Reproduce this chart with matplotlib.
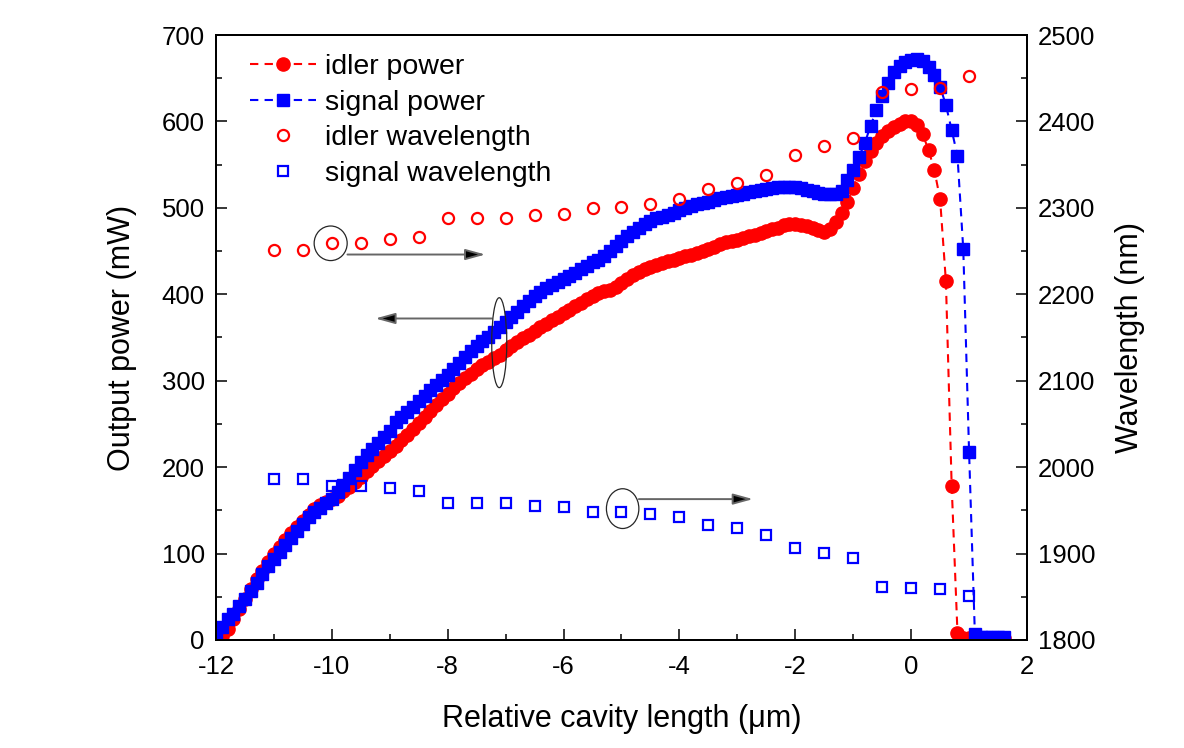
import matplotlib
matplotlib.use("Agg")
import matplotlib.pyplot as plt
from matplotlib.patches import Ellipse
from matplotlib.ticker import MultipleLocator
import numpy as np

plt.rcParams["font.family"] = ["Liberation Sans", "DejaVu Sans"]
plt.rcParams["axes.unicode_minus"] = False

# cavity length scan for the power curves (0.1 um steps from -12.0 to 1.6)
cavity_um = np.round(np.arange(-12.0, 1.65, 0.1), 1)

idler_power = [
    0, 5, 13, 24, 36, 48, 59, 70, 80, 90,
    99, 108, 116, 124, 131, 138, 145, 151, 156, 160,
    163, 167, 172, 177, 183, 189, 195, 201, 207, 213,
    219, 225, 231, 237, 244, 251, 258, 265, 272, 279,
    285, 291, 297, 303, 308, 313, 318, 322, 326, 330,
    335, 340, 345, 349, 353, 358, 362, 366, 370, 374,
    378, 382, 386, 390, 394, 398, 402, 404, 405, 408,
    413, 418, 422, 426, 429, 432, 434, 436, 438, 440,
    442, 444, 446, 448, 450, 452, 455, 458, 460, 462,
    463, 465, 467, 469, 471, 473, 475, 477, 480, 481,
    481, 480, 479, 477, 474, 472, 476, 484, 494, 507,
    523, 539, 554, 566, 575, 583, 589, 593, 597, 600,
    601, 596, 585, 567, 544, 510, 415, 178, 8, 2,
    2, 2, 2, 2, 2, 2, 2,
]

signal_power = [
    5, 15, 24, 30, 39, 48, 57, 66, 76, 86,
    94, 102, 110, 118, 126, 134, 142, 148, 153, 158,
    163, 171, 179, 188, 197, 206, 214, 221, 228, 235,
    242, 252, 258, 264, 270, 276, 282, 289, 295, 301,
    307, 314, 321, 328, 334, 340, 346, 351, 356, 362,
    368, 374, 380, 386, 392, 398, 403, 407, 411, 414,
    418, 421, 425, 429, 433, 437, 440, 444, 450, 456,
    462, 467, 472, 477, 481, 485, 488, 490, 492, 494,
    497, 500, 502, 504, 506, 507, 509, 511, 512, 514,
    515, 516, 518, 519, 521, 522, 523, 524, 524, 524,
    524, 523, 521, 519, 517, 516, 516, 516, 520, 532,
    544, 559, 575, 595, 613, 630, 645, 657, 664, 669,
    671, 672, 670, 663, 654, 640, 619, 590, 560, 452,
    218, 7, 3, 3, 3, 3, 3,
]

# wavelength measurements every 0.5 um
wl_pos = [-11.0, -10.5, -10.0, -9.5, -9.0, -8.5, -8.0, -7.5, -7.0, -6.5, -6.0, -5.5,
          -5.0, -4.5, -4.0, -3.5, -3.0, -2.5, -2.0, -1.5, -1.0, -0.5, 0.0, 0.5, 1.0]
idler_wl = [2251, 2251, 2259, 2259, 2264, 2266, 2288, 2288, 2288, 2292, 2293, 2300,
            2301, 2305, 2310, 2322, 2329, 2338, 2361, 2371, 2381, 2434, 2437, 2439, 2452]
signal_wl = [1986, 1986, 1978, 1978, 1976, 1972, 1958, 1958, 1958, 1955, 1954, 1948,
             1948, 1946, 1942, 1933, 1930, 1922, 1906, 1901, 1895, 1861, 1860, 1859, 1851]

RED = "#ff0000"
BLUE = "#0000ff"

fig = plt.figure(figsize=(11.84, 7.48), dpi=100)
ax = fig.add_axes([0.1824, 0.1444, 0.6850, 0.8088])
ax2 = ax.twinx()

l1, = ax.plot(cavity_um, idler_power, color=RED, ls=(0, (4, 3)), lw=1.5,
              marker="o", ms=9.5, mec=RED, mfc=RED, label="idler power")
l2, = ax.plot(cavity_um, signal_power, color=BLUE, ls=(0, (4, 3)), lw=1.5,
              marker="s", ms=8.3, mec=BLUE, mfc=BLUE, label="signal power")
l3, = ax2.plot(wl_pos, idler_wl, ls="none", marker="o", ms=8.0, mfc="none",
               mec=RED, mew=1.6, label="idler wavelength")
l4, = ax2.plot(wl_pos, signal_wl, ls="none", marker="s", ms=7.0, mfc="none",
               mec=BLUE, mew=1.6, label="signal wavelength")

ax.set_xlim(-12, 2)
ax.set_ylim(0, 700)
ax2.set_ylim(1800, 2500)

ax.xaxis.set_major_locator(MultipleLocator(2))
ax.xaxis.set_minor_locator(MultipleLocator(1))
ax.yaxis.set_major_locator(MultipleLocator(100))
ax.yaxis.set_minor_locator(MultipleLocator(50))
ax2.yaxis.set_major_locator(MultipleLocator(100))
ax2.yaxis.set_minor_locator(MultipleLocator(50))

for a in (ax, ax2):
    for s in a.spines.values():
        s.set_linewidth(1.4)
ax.tick_params(which="both", direction="in", top=False, right=False, width=1.1,
               labelsize=18.5, pad=8)
ax.tick_params(axis="x", which="both", pad=11)
ax.tick_params(which="major", length=8)
ax.tick_params(which="minor", length=4.5)
ax2.tick_params(which="both", direction="in", width=1.1, labelsize=18.5, pad=8)
ax2.tick_params(which="major", length=8)
ax2.tick_params(which="minor", length=4.5)

ax.set_xlabel("Relative cavity length (\u03bcm)", fontsize=22, labelpad=18)
ax.set_ylabel("Output power (mW)", fontsize=22, labelpad=18)
ax2.set_ylabel("Wavelength (nm)", fontsize=22, labelpad=14)

# annotations: ellipses marking the series and arrows pointing to their axis
arrow_kw = dict(arrowstyle="-|>,head_length=0.8,head_width=0.22", fc="black",
                ec="0.4", lw=1.4, mutation_scale=15, shrinkA=0, shrinkB=0)

ax2.add_patch(Ellipse((-10.02, 2259), 0.57, 40, fill=False, ec="0.15", lw=0.9, zorder=5))
ax2.annotate("", xy=(-7.35, 2246), xytext=(-9.73, 2246), arrowprops=arrow_kw)

ax2.add_patch(Ellipse((-4.98, 1952), 0.56, 46, fill=False, ec="0.15", lw=0.9, zorder=5))
ax2.annotate("", xy=(-2.73, 1963), xytext=(-4.70, 1963), arrowprops=arrow_kw)

ax2.add_patch(Ellipse((-7.11, 2144), 0.26, 104, fill=False, ec="0.15", lw=0.9, zorder=5))
ax2.annotate("", xy=(-9.25, 2172), xytext=(-7.24, 2172), arrowprops=arrow_kw)

ax2.legend(handles=[l1, l2, l3, l4], loc="upper left", bbox_to_anchor=(0.035, 0.978),
           frameon=False, fontsize=20.5, numpoints=1, handlelength=2.3,
           handletextpad=0.35, labelspacing=0.34, borderaxespad=0, borderpad=0.2)

fig.savefig("out.png", dpi=100)
